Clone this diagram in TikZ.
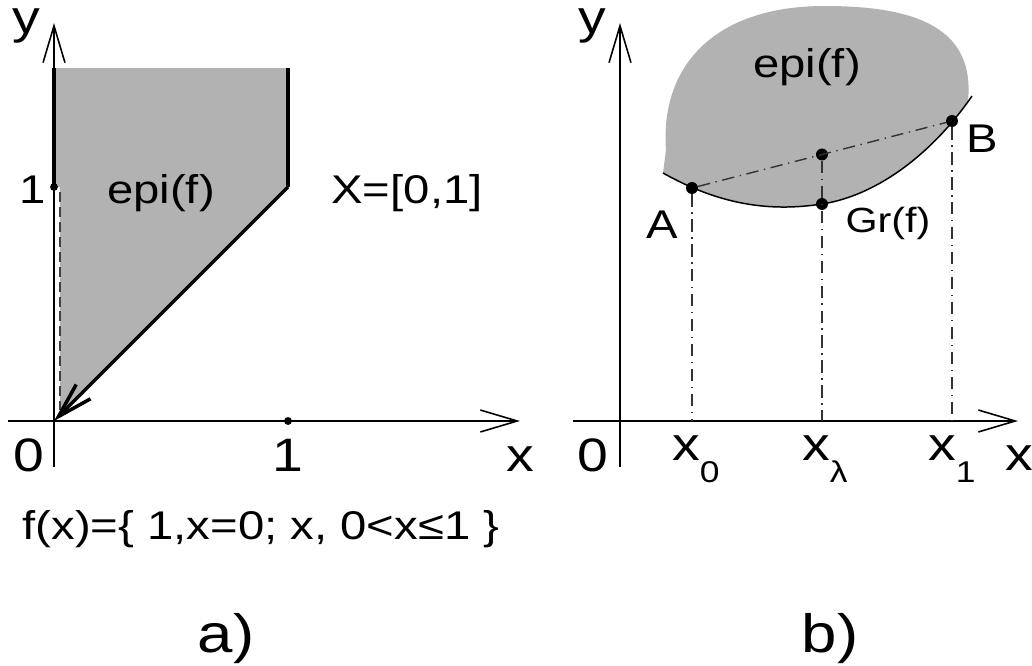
\documentclass[tikz,border=0pt]{standalone}
\usepackage{fontspec}
\setmainfont[FakeStretch=1.18]{Liberation Sans}
\usetikzlibrary{arrows.meta}
\definecolor{epishade}{gray}{0.70}
\newcommand{\lowsub}[1]{\raisebox{-13pt}{\fontsize{17.1}{20}\selectfont #1}}
\tikzset{
    axisline/.style={line width=0.9pt, -{Straight Barb[length=21pt,width=12.5pt]}},
    bound/.style={line width=2pt},
    graphline/.style={line width=0.85pt},
    limitline/.style={line width=0.8pt, black!75, dash pattern=on 5.7pt off 2.8pt},
    chordline/.style={line width=0.8pt, black!80, dash pattern=on 7pt off 3.2pt on 0.8pt off 3.2pt},
    smalldot/.style={circle, fill=black, inner sep=0pt, minimum size=4.5pt},
    bigdot/.style={circle, fill=black, inner sep=0pt, minimum size=6.8pt},
    axlabel/.style={font=\fontsize{26.7}{30}\selectfont, inner sep=0pt, anchor=base},
    txtlabel/.style={font=\fontsize{22.8}{27}\selectfont, inner sep=0pt, anchor=base},
    ptlabel/.style={font=\fontsize{19.9}{24}\selectfont, inner sep=0pt, anchor=base},
    caplabel/.style={font=\fontsize{30.7}{36}\selectfont, inner sep=0pt, anchor=base}
}
\begin{document}
\begin{tikzpicture}[x=0.02cm, y=-0.02cm]
                \useasboundingbox (0,0) rectangle (1032,666);
                % a)
                \coordinate (Lo) at (54,421);
                \coordinate (Lxs) at (8,421);
                \coordinate (Lxe) at (520,421);
                \coordinate (Lys) at (54,467);
                \coordinate (Lye) at (54,23);
                \coordinate (Ltl) at (54,68);
                \coordinate (Ltr) at (288,68);
                \coordinate (Lc) at (288,187);
                \coordinate (Ldt) at (60,192);
                \coordinate (Ldb) at (60,410);
                \fill[epishade] (Ltl) -- (Ltr) -- (Lc) -- (60,414) -- (60,187) -- (54,187) -- cycle;
                \draw[axisline] (Lxs) -- (Lxe);
                \draw[axisline] (Lys) -- (Lye);
                \draw[limitline] (Ldt) -- (Ldb);
                \node[smalldot] (Lone) at (54,187) {};
                \node[smalldot] (Lxdot) at (288,421) {};
                \draw[bound] (Lone.center) -- (Ltl);
                \draw[bound] (Ltr) -- (Lc);
                \draw[bound, -{Straight Barb[length=20pt,width=11.5pt]}] (Lc) -- (Lo);
                \node[axlabel] (ly) at (26,33) {y};
                \node[txtlabel] (lone) at (33,203) {1};
                \node[txtlabel] (lepi) at (161,203) {epi(f)};
                \node[txtlabel] (lset) at (407,203) {X=[0,1]};
                \node[axlabel] (lzero) at (29,471) {0};
                \node[axlabel] (lxone) at (288,471) {1};
                \node[axlabel] (lx) at (520,471) {x};
                \node[txtlabel] (lfun) at (261,539) {f(x)=\{ 1,x=0; x, 0<x≤1 \}};
                \node[caplabel] (capa) at (226,652) {a)};
                % b)
                \coordinate (Rxs) at (573,421);
                \coordinate (Rxe) at (1018,421);
                \coordinate (Rys) at (620,467);
                \coordinate (Rye) at (620,23);
                \coordinate (F0) at (692,421);
                \coordinate (Fl) at (822,421);
                \coordinate (F1) at (952,421);
                \fill[epishade] (663,173) .. controls (720,205) and (770,212) .. (822,204)
                    .. controls (880,195) and (935,150) .. (968,101)
                    .. controls (975,30) and (920,6) .. (825,6)
                    .. controls (710,6) and (660,70) .. (666,150) -- cycle;
                \draw[axisline] (Rxs) -- (Rxe);
                \draw[axisline] (Rys) -- (Rye);
                \draw[graphline] (663,173) .. controls (720,205) and (770,212) .. (822,204)
                    .. controls (880,195) and (935,150) .. (972,96);
                \node[bigdot] (A) at (692,188) {};
                \node[bigdot] (B) at (952,121) {};
                \node[bigdot] (M) at (822,154.5) {};
                \node[bigdot] (G) at (822,204) {};
                \draw[chordline] (A) -- (B);
                \draw[chordline] (A) -- (F0);
                \draw[chordline] (M) -- (Fl);
                \draw[chordline] (B) -- (F1);
                \node[axlabel] (ry) at (592,33) {y};
                \node[txtlabel] (repi) at (807,77) {epi(f)};
                \node[txtlabel] (rA) at (662,238) {A};
                \node[txtlabel] (rB) at (982,152) {B};
                \node[ptlabel] (rgr) at (888,232) {Gr(f)};
                \node[axlabel] (rzero) at (593,471) {0};
                \node[axlabel] (rx0) at (696,460) {x\lowsub{0}};
                \node[axlabel] (rxl) at (825,460) {x\lowsub{λ}};
                \node[axlabel] (rx1) at (952,460) {x\lowsub{1}};
                \node[axlabel] (rx) at (1019,470) {x};
                \node[caplabel] (capb) at (830,652) {b)};
            \end{tikzpicture}
\end{document}
